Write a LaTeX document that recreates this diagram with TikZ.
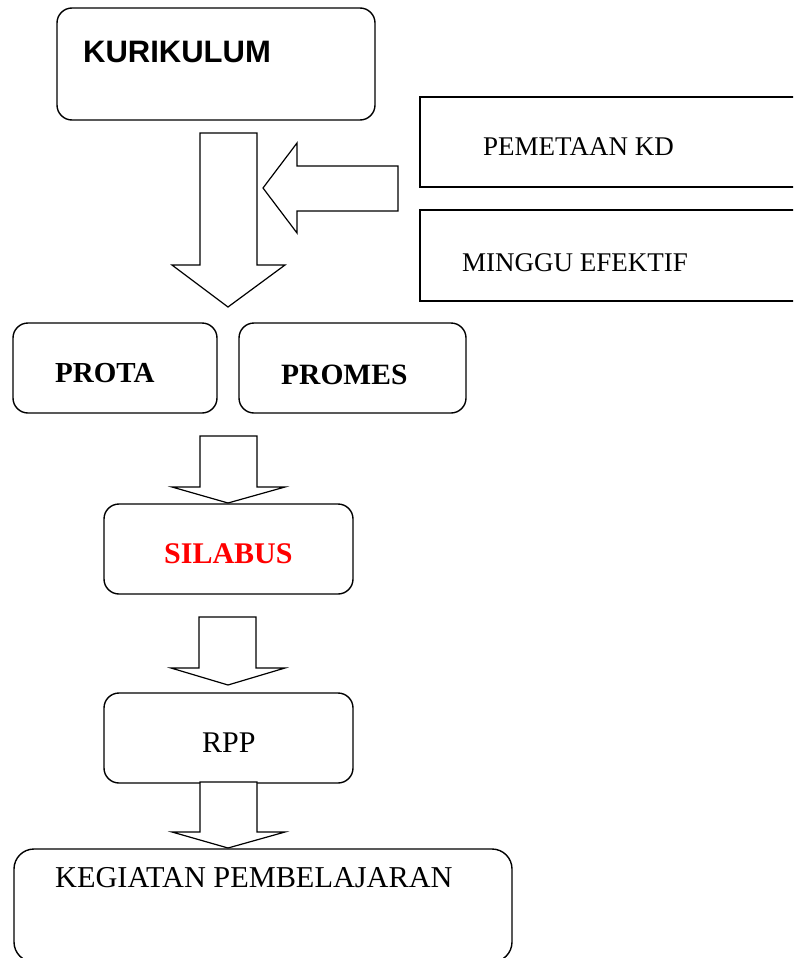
\documentclass[tikz,border=0pt]{standalone}
\usepackage{fontspec}
\setmainfont{Liberation Serif}
\newfontfamily\sansbold{Liberation Sans}[BoldFont={Liberation Sans Bold}]
\begin{document}
\begin{tikzpicture}[x=1pt,y=-1pt,
  rbox/.style={draw, line width=1.4pt, rounded corners=15pt, inner sep=0pt},
  sbox/.style={draw, line width=1.4pt, inner sep=0pt},
  blockarrow/.style={draw, line width=1.2pt, line join=miter, fill=white},
  lbl/.style={anchor=base west, inner sep=0pt}]
\useasboundingbox (0,0) rectangle (793,958);
\clip (0,0) rectangle (793,958);
% boxes
\node[rbox, minimum width=318pt, minimum height=112pt] (kur) at (216,64) {};
\node[sbox, minimum width=410pt, minimum height=90pt] (kd) at (625,142) {};
\node[sbox, minimum width=410pt, minimum height=91pt] (mg) at (625,255.5) {};
\node[rbox, minimum width=204pt, minimum height=90pt] (prota) at (115,368) {};
\node[rbox, minimum width=227pt, minimum height=90pt] (promes) at (352.5,368) {};
\node[rbox, minimum width=249pt, minimum height=90pt] (sil) at (228.5,549) {};
\node[rbox, minimum width=249pt, minimum height=90pt] (rpp) at (228.5,738) {};
\node[rbox, rounded corners=20pt, minimum width=498pt, minimum height=113pt] (keg) at (263,905.5) {};
% block arrows
\draw[blockarrow] (200,133) -- (257,133) -- (257,265) -- (285,265) -- (228,307) -- (172,265) -- (200,265) -- cycle;
\draw[blockarrow] (398,166) -- (297,166) -- (297,143) -- (263,188) -- (297,233) -- (297,211) -- (398,211) -- cycle;
\draw[blockarrow] (200,436) -- (257,436) -- (257,487) -- (285,487) -- (228,503) -- (172,487) -- (200,487) -- cycle;
\draw[blockarrow] (199,617) -- (256,617) -- (256,668) -- (285,668) -- (228,685) -- (171,668) -- (199,668) -- cycle;
\draw[blockarrow] (200,782) -- (257,782) -- (257,832) -- (285,832) -- (228,848) -- (172,832) -- (200,832) -- cycle;
% labels
\node[lbl] (tkur) at (83,63) {\sansbold\bfseries\fontsize{31}{34}\selectfont KURIKULUM};
\node[lbl] (tkd) at (483,155) {\fontsize{27}{30}\selectfont PEMETAAN KD};
\node[lbl] (tmg) at (462,271) {\fontsize{27}{30}\selectfont MINGGU EFEKTIF};
\node[lbl] (tprota) at (55,382) {\bfseries\fontsize{29}{32}\selectfont PROTA};
\node[lbl] (tpromes) at (281,384) {\bfseries\fontsize{29.5}{32}\selectfont PROMES};
\node[lbl, text=red] (tsil) at (164,563) {\bfseries\fontsize{30}{33}\selectfont SILABUS};
\node[lbl] (trpp) at (202,752) {\fontsize{30}{33}\selectfont RPP};
\node[lbl] (tkeg) at (55,887) {\fontsize{30.3}{33}\selectfont KEGIATAN PEMBELAJARAN};
\end{tikzpicture}
\end{document}
